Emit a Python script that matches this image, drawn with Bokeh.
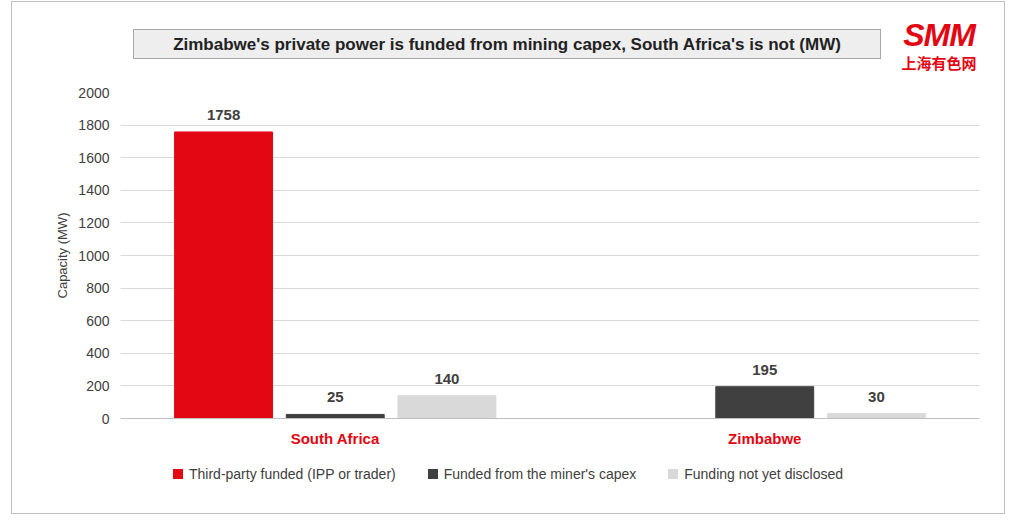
from bokeh.plotting import figure
from bokeh.models import ColumnDataSource, LabelSet, FixedTicker, Div
from bokeh.layouts import column
from bokeh.core.properties import value
from bokeh.transform import dodge
from bokeh.embed import file_html
from bokeh.resources import INLINE

countries = ["South Africa", "Zimbabwe"]
third_party = [1758, 0]
miner_capex = [25, 195]
not_disclosed = [140, 30]
third_lbl = ["1758", ""]
miner_lbl = ["25", "195"]
nd_lbl = ["140", "30"]
series_names = ["Third-party funded (IPP or trader)", "Funded from the miner's capex", "Funding not yet disclosed"]
colors = ["#e30613", "#404040", "#d9d9d9"]
title_text = "Zimbabwe's private power is funded from mining capex, South Africa's is not (MW)"

src = ColumnDataSource(dict(c=countries, a=third_party, b=miner_capex, d=not_disclosed,
                            la=third_lbl, lb=miner_lbl, ld=nd_lbl))

header = Div(width=982, height=72, text=f"""
<div style="position:relative;width:982px;height:72px;font-family:'Liberation Sans';">
 <div style="position:absolute;left:116px;top:22px;width:748px;height:30px;background:#eeeeee;border:1px solid #a6a6a6;
   font-weight:bold;font-size:17px;color:#222;text-align:center;line-height:30px;white-space:nowrap;">{title_text}</div>
 <div style="position:absolute;left:872px;top:12px;width:100px;text-align:center;color:#e30613;font-weight:bold;
   font-style:italic;font-size:32px;line-height:32px;letter-spacing:-1px;">SMM</div>
 <div style="position:absolute;left:872px;top:47px;width:100px;text-align:center;color:#e30613;font-weight:bold;
   font-family:'Noto Sans CJK SC';font-size:15px;line-height:18px;">上海有色网</div>
</div>""")

p = figure(x_range=countries, y_range=(0, 2000), width=982, height=368,
           output_backend="svg", toolbar_location=None,
           min_border_left=108, min_border_right=15, min_border_top=8, min_border_bottom=34)
p.outline_line_color = None
w = 0.228
off = 0.26
p.vbar(x=dodge("c", -off, range=p.x_range), top="a", width=w, source=src, color=colors[0])
p.vbar(x=dodge("c", 0, range=p.x_range), top="b", width=w, source=src, color=colors[1])
p.vbar(x=dodge("c", off, range=p.x_range), top="d", width=w, source=src, color=colors[2])

for col, ycol, dx in [("la", "a", -off), ("lb", "b", 0), ("ld", "d", off)]:
    p.add_layout(LabelSet(x=dodge("c", dx, range=p.x_range), y=ycol, text=col, source=src,
                          text_align="center", y_offset=12, text_font=value("Liberation Sans"),
                          text_font_style="bold", text_font_size="15px", text_color="#404040"))

p.yaxis.ticker = FixedTicker(ticks=list(range(0, 2001, 200)))
p.yaxis.axis_line_color = None
p.yaxis.major_tick_line_color = None
p.yaxis.minor_tick_line_color = None
p.yaxis.major_label_text_font_size = "14px"
p.yaxis.major_label_text_color = "#404040"
p.yaxis.major_label_text_font = "Liberation Sans"
p.yaxis.axis_label = "Capacity (MW)"
p.yaxis.axis_label_text_font_style = "normal"
p.yaxis.axis_label_text_font_size = "13px"
p.yaxis.axis_label_text_font = "Liberation Sans"
p.yaxis.axis_label_text_color = "#404040"
p.xaxis.axis_line_color = "#bfbfbf"
p.xaxis.major_tick_line_color = None
p.xaxis.major_label_text_color = "#e30613"
p.xaxis.major_label_text_font_style = "bold"
p.xaxis.major_label_text_font_size = "15px"
p.xaxis.major_label_text_font = "Liberation Sans"
p.xgrid.grid_line_color = None
p.ygrid.grid_line_color = "#d9d9d9"
p.x_range.range_padding = 0

items = "".join(
    f'<span style="display:inline-flex;align-items:center;margin:0 16px;">'
    f'<span style="display:inline-block;width:10px;height:10px;background:{c};margin-right:6px;"></span>{n}</span>'
    for n, c in zip(series_names, colors))
legend_div = Div(width=982, height=51, text=f"""
<div style="width:982px;text-align:center;font-family:'Liberation Sans';font-size:14px;color:#404040;
 padding-top:7px;">{items}</div>""")

layout = column(header, p, legend_div, spacing=0, margin=(1, 0, 0, 11), styles={"border": "1px solid #bfbfbf"})
open("out.html", "w").write(file_html(layout, INLINE))
